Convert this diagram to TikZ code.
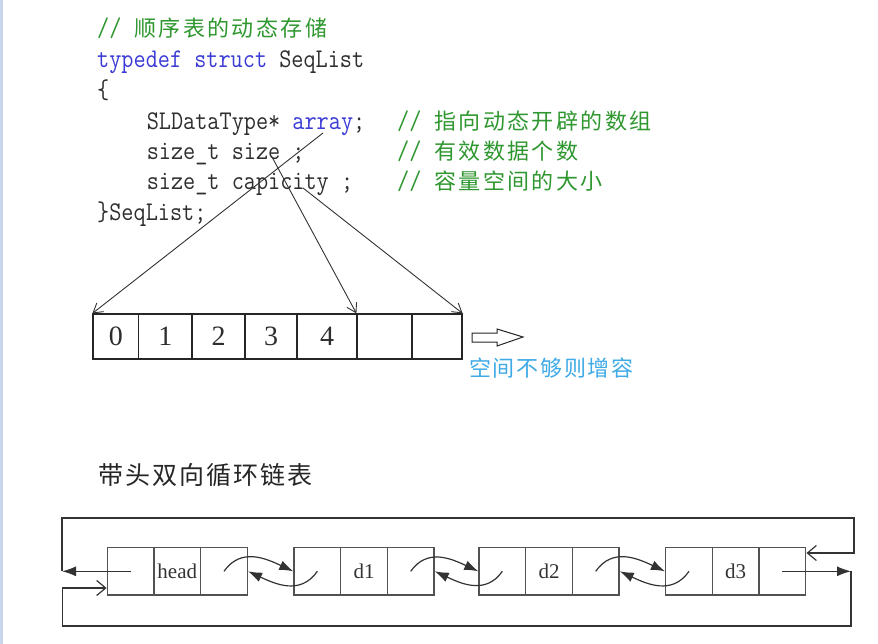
\documentclass[tikz,border=0pt]{standalone}
\usepackage{fontspec}
\usepackage{graphicx}
\usetikzlibrary{arrows.meta}
\newfontfamily\cjk[LetterSpace=11]{Noto Sans CJK SC}
\newfontfamily\cjkb[LetterSpace=8]{Noto Sans CJK SC}
\newfontfamily\serifnum{Liberation Serif}
\definecolor{kw}{HTML}{3A3AD6}
\definecolor{cm}{HTML}{2F972F}
\definecolor{codefg}{HTML}{2E2E2E}
\definecolor{lblue}{HTML}{3FAAE6}
\definecolor{stripc}{HTML}{C9D5EA}
\definecolor{lineg}{HTML}{333333}
\newcommand{\cd}[1]{\scalebox{0.873}[1]{\fontsize{27}{30}\selectfont\ttfamily #1}}
\tikzset{
  code/.style={anchor=base west, inner sep=0pt, text=codefg},
  cmt/.style={anchor=base west, inner sep=0pt, text=cm, font=\cjk\fontsize{22}{24}\selectfont},
  acell/.style={draw=black!85, line width=1.2pt, minimum height=45pt, inner sep=0pt, text=codefg, font=\serifnum\fontsize{28}{30}\selectfont},
  lcell/.style={draw=black!68, line width=1.4pt, minimum width=46.7pt, minimum height=47.3pt, inner sep=0pt, text=black!80, font=\serifnum\fontsize{21}{24}\selectfont},
  codearrow/.style={draw=lineg, line width=0.9pt, -{Straight Barb[length=9pt,width=11pt]}},
  fillarrow/.style={draw=black!80, line width=1.2pt, -{Latex[length=14pt,width=10pt]}},
  barbarrow/.style={draw=black!80, line width=1.2pt, -{Straight Barb[length=9pt,width=15pt]}},
}
\begin{document}
\begin{tikzpicture}[x=1pt,y=-1pt]
\useasboundingbox (0,0) rectangle (878,644);
\fill[white] (0,0) rectangle (878,644);
\fill[stripc] (0,0) rectangle (3,644);
% code
\node[code] (l1) at (97,37) {\cd{\color{cm}//}};
\node[cmt] (l1c) at (134,37) {顺序表的动态存储};
\node[code] (l2) at (97,68) {\cd{{\color{kw}typedef struct} SeqList}};
\node[code] (l3) at (97,99) {\cd{\{}};
\node[code] (l4) at (146.6,130) {\cd{SLDataType* {\color{kw}array};}};
\node[code] (l4s) at (397,130) {\cd{\color{cm}//}};
\node[cmt] (l4c) at (434,130) {指向动态开辟的数组};
\node[code] (l5) at (146.6,160) {\cd{size\_t size ;}};
\node[code] (l5s) at (397,160) {\cd{\color{cm}//}};
\node[cmt] (l5c) at (434,160) {有效数据个数};
\node[code] (l6) at (146.6,190) {\cd{size\_t capicity ;}};
\node[code] (l6s) at (397,190) {\cd{\color{cm}//}};
\node[cmt] (l6c) at (434,190) {容量空间的大小};
\node[code] (l7) at (97,221) {\cd{\}SeqList;}};
% array
\node[acell, minimum width=45.5pt] (a0) at (115.75,336.5) {0};
\node[acell, minimum width=53.5pt] (a1) at (165.25,336.5) {1};
\node[acell, minimum width=53pt] (a2) at (218.5,336.5) {2};
\node[acell, minimum width=52pt] (a3) at (271,336.5) {3};
\node[acell, minimum width=60pt] (a4) at (327,336.5) {4};
\node[acell, minimum width=55pt] (a5) at (384.5,336.5) {};
\node[acell, minimum width=50pt] (a6) at (437,336.5) {};
\coordinate (sArr) at (323,133);
\coordinate (sSize) at (272,157);
\coordinate (sCap) at (303,188);
\draw[codearrow] (sArr) -- (a0.north west);
\draw[codearrow] (sSize) -- (a5.north west);
\draw[codearrow] (sCap) -- (a6.north east);
% grow arrow
\draw[black!85, line width=1pt, fill=white] (472,333) -- (497,333) -- (497,329) -- (523,337) -- (497,346) -- (497,342) -- (472,342) -- cycle;
\node[anchor=west, inner sep=0pt, text=lblue, font=\cjkb\fontsize{22}{24}\selectfont] (grow) at (469,368) {空间不够则增容};
% title
\node[anchor=west, inner sep=0pt, text=black!85, font=\cjkb\fontsize{25}{28}\selectfont] (title) at (98,475) {带头双向循环链表};
% list nodes
\foreach \n/\L/\t in {h/107.3/head, p/294/d1, q/479/d2, r/665.7/d3}{
  \node[lcell] (\n1) at ({\L+23.35},571.3) {};
  \node[lcell] (\n2) at ({\L+70},571.3) {\t};
  \node[lcell] (\n3) at ({\L+116.7},571.3) {};
}
\foreach \a/\b in {h/p, p/q, q/r}{
  \draw[fillarrow] (\a3.center) to[out=55,in=155,looseness=1.1] (\b1.west);
  \draw[fillarrow] (\b1.center) to[out=-125,in=-25,looseness=1.1] (\a3.east);
}
% outer loop
\coordinate (Lm) at (62,571.3);
\coordinate (Ltop) at (62,518);
\coordinate (Rtop) at (854,518);
\coordinate (Rin) at (854,553);
\coordinate (Rm) at (851,571.3);
\coordinate (Rbot) at (851,626);
\coordinate (Lbot) at (62.5,626);
\coordinate (Lin) at (62.5,588);
\draw[fillarrow] (h1.center) -- (Lm);
\draw[barbarrow] (Lm) -- (Ltop) -- (Rtop) -- (Rin) -- (r3.east |- Rin);
\draw[fillarrow] (r3.center) -- (Rm);
\draw[barbarrow] (Rm) -- (Rbot) -- (Lbot) -- (Lin) -- (h1.west |- Lin);
\end{tikzpicture}
\end{document}
